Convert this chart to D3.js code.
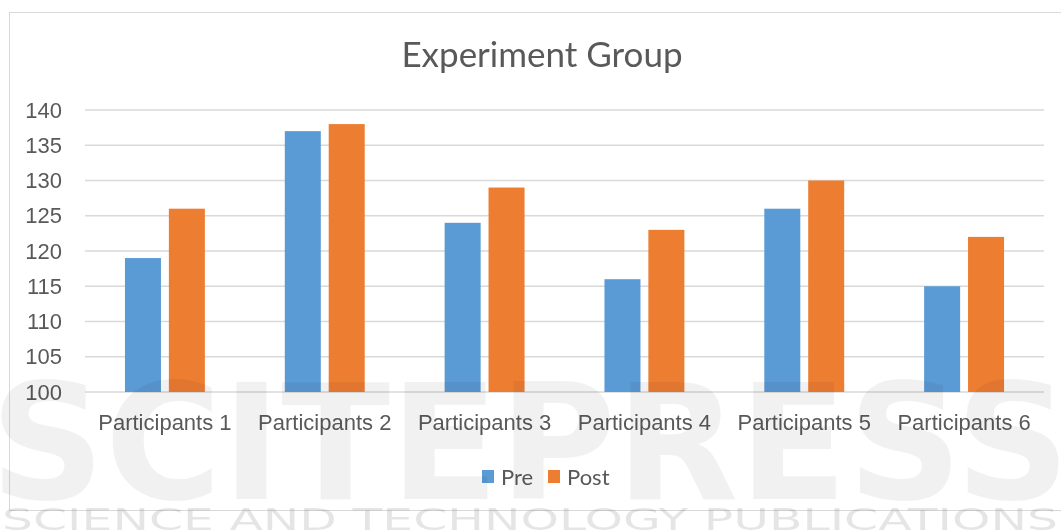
<!DOCTYPE html>
<html>
<head>
<meta charset="utf-8">
<script src="https://cdn.jsdelivr.net/npm/d3@7"></script>
<style>
  body { margin: 0; background: #fff; }
  svg { display: block; font-family: Lato, "Open Sans", sans-serif; }
  .grid line { stroke: #d9d9d9; stroke-width: 1.4; }
  .axis text { fill: #595959; }
</style>
</head>
<body>
<div id="chart"></div>
<script>
// Data
var categories = ["Participants 1", "Participants 2", "Participants 3", "Participants 4", "Participants 5", "Participants 6"];
var seriesNames = ["Pre", "Post"];
var preValues = [119, 137, 124, 116, 126, 115];
var postValues = [126, 138, 129, 123, 130, 122];
var yTicks = [100, 105, 110, 115, 120, 125, 130, 135, 140];
var chartTitle = "Experiment Group";

var colors = d3.scaleOrdinal().domain(seriesNames).range(["#5b9bd5", "#ed7d31"]);

var W = 1061, H = 531;
var margin = {'top': 110, 'right': 17, 'left': 85, 'bottom': 139},
    width = W - margin.left - margin.right,
    height = H - margin.top - margin.bottom;

var rows = categories.map(function(c, i) {
  return {cat: c, values: [{key: "Pre", value: preValues[i]}, {key: "Post", value: postValues[i]}]};
});

var svg = d3.select('#chart').append('svg')
  .attr('width', W)
  .attr('height', H);

// chart area border
svg.append('rect')
  .attr('x', 9.5).attr('y', 12.5)
  .attr('width', W + 10).attr('height', 498)
  .attr('fill', 'none')
  .attr('stroke', '#d9d9d9')
  .attr('stroke-width', 1);

svg.append('text')
  .attr('x', 542)
  .attr('y', 67)
  .attr('text-anchor', 'middle')
  .attr('fill', '#595959')
  .style('font-size', '35px')
  .text(chartTitle);

var g = svg.append('g')
  .attr('transform', 'translate(' + margin.left + ',' + margin.top + ')');

var x0 = d3.scaleBand().domain(categories).range([0, width]).paddingInner(0.5).paddingOuter(0.25),
    x1 = d3.scaleBand().domain(seriesNames).range([0, x0.bandwidth()]).paddingInner(0.18),
    y = d3.scaleLinear().domain([100, 140]).range([height, 0]);

// gridlines
g.append('g')
    .attr('class', 'grid')
  .selectAll('line')
    .data(yTicks)
  .enter().append('line')
    .attr('x1', 0).attr('x2', width)
    .attr('y1', function(d) { return y(d); })
    .attr('y2', function(d) { return y(d); });

var yAxis = d3.axisLeft(y).tickValues(yTicks).tickSize(0).tickPadding(23);
g.append('g')
    .attr('class', 'axis axis--y')
    .call(yAxis)
    .call(function(s) { s.select('.domain').remove(); })
    .selectAll('text')
    .style('font-size', '22px');

var xAxis = d3.axisBottom(x0).tickSize(0).tickPadding(22);
g.append('g')
    .attr('class', 'axis axis--x')
    .attr('transform', 'translate(0,' + height + ')')
    .call(xAxis)
    .call(function(s) { s.select('.domain').remove(); })
    .selectAll('text')
    .style('font-size', '22px');

var cat = g.selectAll('.cat')
    .data(rows)
  .enter().append('g')
    .attr('class', 'cat')
    .attr('transform', function(d) { return 'translate(' + x0(d.cat) + ',0)'; });

cat.selectAll('rect')
    .data(function(d) { return d.values; })
  .enter().append('rect')
    .attr('x', function(d) { return x1(d.key); })
    .attr('y', function(d) { return y(d.value); })
    .attr('width', x1.bandwidth())
    .attr('height', function(d) { return y(100) - y(d.value); })
    .attr('fill', function(d) { return colors(d.key); });

// legend
var legend = svg.append('g')
  .attr('transform', 'translate(482,477)');

var item = legend.selectAll('.item')
    .data(seriesNames)
  .enter().append('g')
    .attr('class', 'item')
    .attr('transform', function(d, i) { return 'translate(' + (i * 66) + ',0)'; });

item.append('rect')
  .attr('x', 0).attr('y', -7)
  .attr('width', 12).attr('height', 13)
  .attr('fill', function(d) { return colors(d); });

item.append('text')
  .attr('x', 19)
  .attr('y', 0)
  .attr('dy', '0.35em')
  .attr('fill', '#595959')
  .style('font-size', '22px')
  .text(function(d) { return d; });

// faint publisher watermark over the figure
var wm = svg.append('g')
  .style('pointer-events', 'none')
  .style('mix-blend-mode', 'multiply');

wm.append('text')
  .attr('x', 530).attr('y', 499)
  .attr('text-anchor', 'middle')
  .attr('textLength', 1080)
  .attr('lengthAdjust', 'spacingAndGlyphs')
  .attr('fill', '#000').attr('fill-opacity', 0.055)
  .style('font-size', '160px').style('font-weight', 'bold')
  .style('font-family', '"DejaVu Sans", sans-serif')
  .text('SCITEPRESS');

wm.append('text')
  .attr('x', 530).attr('y', 530)
  .attr('text-anchor', 'middle')
  .attr('textLength', 1056)
  .attr('lengthAdjust', 'spacingAndGlyphs')
  .attr('fill', '#000').attr('fill-opacity', 0.1)
  .style('font-size', '30px')
  .style('font-family', '"DejaVu Sans", sans-serif')
  .text('SCIENCE AND TECHNOLOGY PUBLICATIONS');
</script>
</body>
</html>
